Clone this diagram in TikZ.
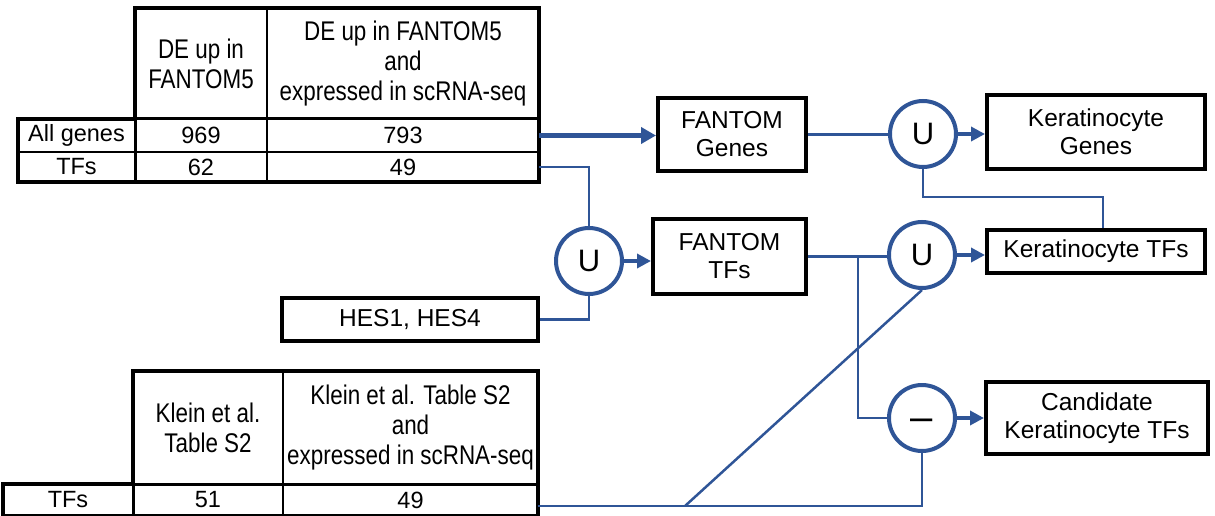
\documentclass[tikz,border=0pt]{standalone}
\usepackage{fontspec}
\setmainfont{Liberation Sans}
\newfontfamily\hdrfont[FakeStretch=0.83]{Liberation Sans}
\usetikzlibrary{arrows.meta}
\definecolor{flowblue}{RGB}{47,85,151}

\begin{document}
\begin{tikzpicture}[x=1pt,y=-1pt,
  cell/.style={draw, line width=2pt, inner sep=0pt, outer sep=0pt, anchor=north west, align=center},
  bodytxt/.style={font=\fontsize{23.5}{26}\selectfont},
  hdrtxt/.style={font=\hdrfont\fontsize{27}{30}\selectfont},
  box/.style={draw, line width=4pt, inner sep=0pt, align=center, font=\fontsize{24.5}{28}\selectfont},
  op/.style={circle, draw=flowblue, line width=4pt, minimum size=66pt, inner sep=0pt, font=\fontsize{31}{31}\selectfont},
  link/.style={draw=flowblue, line width=2.5pt},
  flow/.style={draw=flowblue, line width=4pt, -{Triangle[length=14pt,width=14pt]}},
  frame/.style={line width=4pt, line join=miter},
]
\useasboundingbox (0,0) rectangle (1215,516);

% ---------- FANTOM5 table ----------
\node[cell, hdrtxt, minimum width=132pt, minimum height=111pt] (fh1) at (135,8) {DE up in\\FANTOM5};
\node[cell, hdrtxt, minimum width=272pt, minimum height=111pt] (fh2) at (267,8) {DE up in FANTOM5\\and\\expressed in scRNA-seq};
\node[cell, bodytxt, minimum width=117pt, minimum height=33pt] (fr1c0) at (18,119) {All genes};
\node[cell, bodytxt, minimum width=132pt, minimum height=33pt] (fr1c1) at (135,119) {969};
\node[cell, bodytxt, minimum width=272pt, minimum height=33pt] (fr1c2) at (267,119) {793};
\node[cell, bodytxt, minimum width=117pt, minimum height=30pt] (fr2c0) at (18,152) {TFs};
\node[cell, bodytxt, minimum width=132pt, minimum height=30pt] (fr2c1) at (135,152) {62};
\node[cell, bodytxt, minimum width=272pt, minimum height=30pt] (fr2c2) at (267,152) {49};
\draw[line width=3pt] (fr1c0.north west) -- (fr1c2.north east);
\draw[line width=3pt] (fr1c1.north west) -- (fr2c1.south west);
\draw[frame] (fr2c0.south west) -- (fr1c0.north west) -- (fh1.south west) -- (fh1.north west)
  -- (fh2.north east) -- (fr2c2.south east) -- cycle;

% ---------- Klein et al. table ----------
\node[cell, hdrtxt, minimum width=150pt, minimum height=113pt] (kh1) at (133,371) {Klein et al.\\Table S2};
\node[cell, hdrtxt, minimum width=255pt, minimum height=113pt] (kh2) at (283,371) {Klein et al. Table S2\\and\\expressed in scRNA-seq};
\node[cell, bodytxt, minimum width=130pt, minimum height=32pt] (kr1c0) at (3,484) {TFs};
\node[cell, bodytxt, minimum width=150pt, minimum height=32pt] (kr1c1) at (133,484) {51};
\node[cell, bodytxt, minimum width=255pt, minimum height=32pt] (kr1c2) at (283,484) {49};
\draw[line width=3pt] (kr1c0.north west) -- (kr1c2.north east);
\draw[line width=3pt] (kr1c1.north west) -- (kr1c1.south west);
\draw[frame] (kr1c0.south west) -- (kr1c0.north west) -- (kh1.south west) -- (kh1.north west)
  -- (kh2.north east) -- (kr1c2.south east) -- cycle;

% ---------- boxes ----------
\node[box, minimum width=148pt, minimum height=73pt] (fgenes) at (732,134.5) {FANTOM\\Genes};
\node[box, minimum width=153pt, minimum height=75pt] (ftfs) at (729.5,256.5) {FANTOM\\TFs};
\node[box, minimum width=256pt, minimum height=43pt] (hes) at (410,319.5) {HES1, HES4};
\node[box, minimum width=218pt, minimum height=74pt] (kg) at (1096,132) {Keratinocyte\\Genes};
\node[box, minimum width=218pt, minimum height=43pt] (ktf) at (1096,251.5) {Keratinocyte TFs};
\node[box, minimum width=222pt, minimum height=72pt] (cand) at (1097,418) {Candidate\\Keratinocyte TFs};

% ---------- set operations ----------
\node[op] (uL) at (589,261) {U};
\node[op] (u1) at (923,134) {U};
\node[op] (u2) at (922,255) {U};
\node[op, font=\fontsize{40}{40}\selectfont] (minus) at (922,418) {\smash{\raisebox{-0.31em}{–}}};

% ---------- connectors ----------
\coordinate (kelbow) at (1103,197);
\coordinate (split) at (858,0);
\coordinate (kbus) at (0,506);
\coordinate (kfork) at (685,506);

\draw[flow, line width=5pt, -{Triangle[length=15pt,width=16pt]}] (fr1c2.east) -- (fr1c2.east -| fgenes.west);
\draw[link] (fr2c2.east) -| (uL.north);
\draw[link] (hes.east) -| (uL.south);
\draw[flow] (uL.east) -- (uL.east -| ftfs.west);

\draw[link] (fgenes.east) -- (fgenes.east -| u1.west);
\draw[flow] (u1.east) -- (u1.east -| kg.west);
\draw[link] (u1.south) |- (kelbow) -- (kelbow |- ktf.north);

\draw[link] (ftfs.east) -- (ftfs.east -| u2.west);
\draw[flow] (u2.east) -- (u2.east -| ktf.west);
\draw[link] (split |- ftfs.east) |- (minus.west);
\draw[flow] (minus.east) -- (minus.east -| cand.west);

\draw[link] (kr1c2.east |- kbus) -| (minus.south);
\draw[link] (kfork) -- (u2.south);
\end{tikzpicture}
\end{document}
